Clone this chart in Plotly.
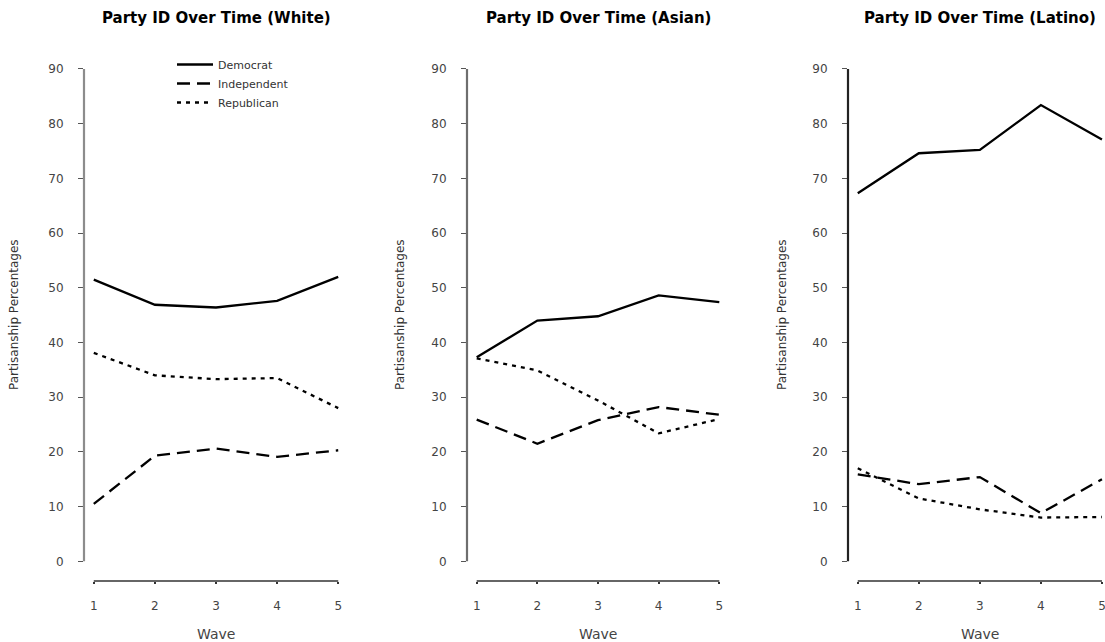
import plotly.graph_objects as go

# ---- data ----
waves = [1, 2, 3, 4, 5]
parties = ["Democrat", "Independent", "Republican"]

white_dem = [51.5, 46.9, 46.4, 47.6, 52.0]
white_ind = [10.5, 19.3, 20.6, 19.1, 20.3]
white_rep = [38.1, 34.0, 33.3, 33.5, 28.0]

asian_dem = [37.3, 44.0, 44.8, 48.6, 47.4]
asian_ind = [25.9, 21.5, 25.8, 28.2, 26.8]
asian_rep = [37.1, 34.9, 29.4, 23.4, 26.0]

latino_dem = [67.3, 74.6, 75.2, 83.4, 77.1]
latino_ind = [15.9, 14.1, 15.4, 8.8, 15.0]
latino_rep = [17.0, 11.5, 9.5, 8.0, 8.1]

groups = ["White", "Asian", "Latino"]
y_ticks = [0, 10, 20, 30, 40, 50, 60, 70, 80, 90]
x_tick_labels = ["1", "2", "3", "4", "5"]

series = {
    "White": [white_dem, white_ind, white_rep],
    "Asian": [asian_dem, asian_ind, asian_rep],
    "Latino": [latino_dem, latino_ind, latino_rep],
}

# ---- layout geometry (page pixels) ----
W, H = 1105, 642


def fx(p):
    return p / W


def fy(p):
    return 1 - p / H


dashes = ["solid", "13px,7px", "4px,5px"]
x_domains_px = [(84, 348), (467, 729), (848, 1105)]
x_ranges = [[0.84, 5.16], [0.84, 5.16], [0.84, 5.05]]
y_axis_colors = ["#8c8c8c", "#6e6e6e", "#222222"]
y_range = [-3.6, 93.6]
y_dom = [fy(581), fy(49.3)]
font = "DejaVu Sans, Verdana, sans-serif"

fig = go.Figure()
for i, g in enumerate(groups):
    xa = "x" if i == 0 else f"x{i+1}"
    ya = "y" if i == 0 else f"y{i+1}"
    for j, p in enumerate(parties):
        fig.add_trace(go.Scatter(
            x=waves, y=series[g][j], mode="lines", name=p,
            line=dict(color="black", width=2.3, dash=dashes[j]),
            xaxis=xa, yaxis=ya, showlegend=(i == 0), hoverinfo="skip",
        ))
    d0, d1 = x_domains_px[i]
    xkey = "xaxis" if i == 0 else f"xaxis{i+1}"
    ykey = "yaxis" if i == 0 else f"yaxis{i+1}"
    fig.update_layout(**{
        xkey: dict(domain=[max(fx(d0), 0), min(fx(d1), 1)], range=x_ranges[i], anchor=ya,
                   tickvals=waves, ticktext=x_tick_labels, ticks="outside",
                   ticklen=2, tickwidth=1.5, tickcolor="#333",
                   showgrid=False, zeroline=False, showline=False,
                   ticklabelstandoff=12, ticklabeloverflow="allow",
                   tickfont=dict(family=font, size=12, color="#444")),
        ykey: dict(domain=y_dom, range=y_range, anchor=xa,
                   tickvals=y_ticks, ticks="outside", ticklen=5, tickwidth=1.2,
                   tickcolor="#555", showgrid=False, zeroline=False,
                   showline=False, ticklabelstandoff=12,
                   tickfont=dict(family=font, size=12, color="#444")),
    })
    # axis lines spanning tick extents (R style)
    fig.add_shape(type="line", xref=f"{xa} domain", yref=ya,
                  x0=0, x1=0, y0=y_ticks[0], y1=y_ticks[-1],
                  line=dict(color=y_axis_colors[i], width=2.2))
    fig.add_shape(type="line", xref=xa, yref=f"{ya} domain",
                  x0=waves[0], x1=waves[-1], y0=0, y1=0,
                  line=dict(color="#333", width=1.5))
    span = x_ranges[i][1] - x_ranges[i][0]
    xc = d0 + ((waves[0] + waves[-1]) / 2 - x_ranges[i][0]) / span * (d1 - d0)
    # title
    fig.add_annotation(text=f"<b>Party ID Over Time ({g})</b>", xref="paper", yref="paper",
                       x=fx(xc), y=fy(18), showarrow=False, xanchor="center",
                       yanchor="middle", font=dict(family=font, size=15, color="black"))
    # x label
    fig.add_annotation(text="Wave", xref="paper", yref="paper",
                       x=fx(xc), y=fy(634), showarrow=False, xanchor="center",
                       yanchor="middle", font=dict(family=font, size=14, color="#444"))
    # y label
    ylx = [14, 400, 782][i]
    fig.add_annotation(text="Partisanship Percentages", xref="paper", yref="paper",
                       x=fx(ylx), y=fy(315), showarrow=False, textangle=-90,
                       xanchor="center", yanchor="middle",
                       font=dict(family=font, size=12, color="#333"))

fig.update_layout(
    width=W, height=H, margin=dict(l=0, r=0, t=0, b=0),
    paper_bgcolor="white", plot_bgcolor="white",
    showlegend=True,
    legend=dict(x=fx(172), y=fy(50), xanchor="left", yanchor="top",
                bgcolor="rgba(0,0,0,0)", font=dict(family=font, size=11, color="#333"),
                tracegroupgap=0, itemwidth=36),
)

fig.write_html(
    "out.html",
    config={"displayModeBar": False},
    post_script="document.body.style.margin='0';document.body.style.overflow='hidden';",
)
